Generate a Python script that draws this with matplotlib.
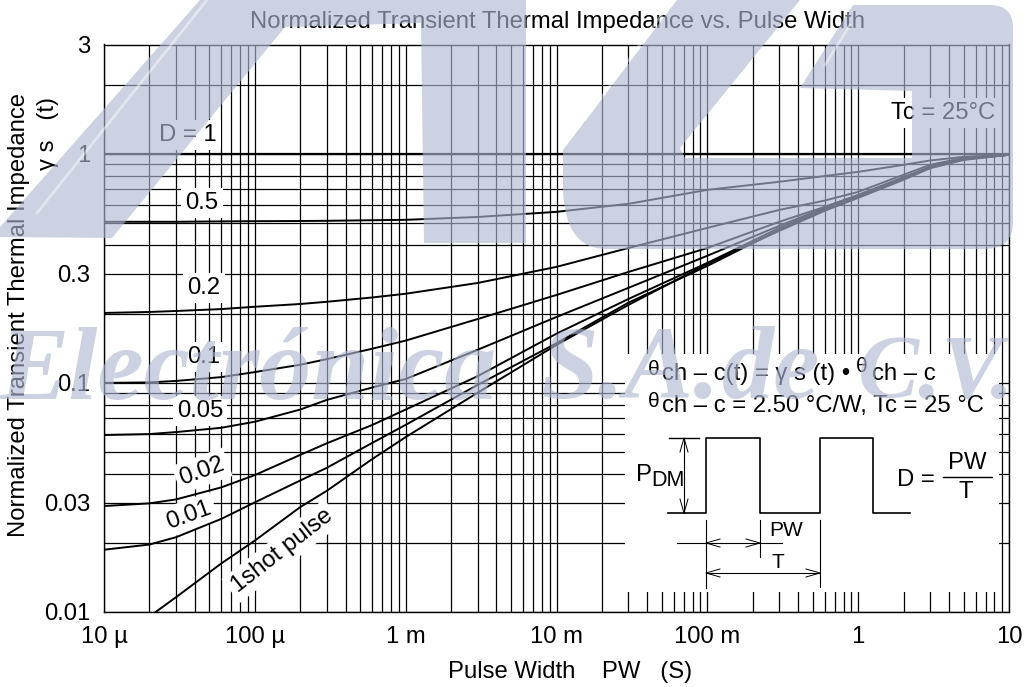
import matplotlib
matplotlib.use('Agg')
from matplotlib import pyplot as plt
from matplotlib.path import Path
from matplotlib.patches import PathPatch, Rectangle, Polygon
from matplotlib.transforms import Affine2D

W, H = 1028, 687

pulse_width = [1e-5, 2e-5, 3e-5, 6e-5, 1e-4, 2e-4, 3e-4, 6e-4, 1e-3, 3e-3, 1e-2, 3e-2, 0.1, 0.3, 0.6, 1, 2, 3, 5, 10]
curve_d1 = [1] * 20
curve_05 = [0.505, 0.505, 0.505, 0.507, 0.508, 0.509, 0.51, 0.513, 0.515, 0.53, 0.558, 0.605, 0.696, 0.755, 0.8, 0.834, 0.895, 0.935, 0.97, 0.99]
curve_02 = [0.202, 0.204, 0.206, 0.21, 0.215, 0.221, 0.226, 0.236, 0.245, 0.273, 0.321, 0.388, 0.475, 0.569, 0.625, 0.682, 0.81, 0.895, 0.96, 0.99]
curve_01 = [0.1, 0.1005, 0.102, 0.106, 0.1115, 0.12, 0.127, 0.141, 0.153, 0.19, 0.242, 0.305, 0.388, 0.505, 0.587, 0.662, 0.79, 0.875, 0.95, 0.99]
curve_005 = [0.0592, 0.0598, 0.061, 0.0637, 0.0677, 0.0765, 0.0843, 0.0955, 0.104, 0.1395, 0.194, 0.26, 0.359, 0.485, 0.581, 0.656, 0.79, 0.875, 0.95, 0.99]
curve_002 = [0.029, 0.0298, 0.031, 0.035, 0.0396, 0.0485, 0.0545, 0.0655, 0.0765, 0.107, 0.164, 0.2325, 0.334, 0.475, 0.575, 0.656, 0.785, 0.875, 0.95, 0.99]
curve_001 = [0.0187, 0.0197, 0.0212, 0.0255, 0.0301, 0.0375, 0.0426, 0.0547, 0.0656, 0.098, 0.149, 0.224, 0.324, 0.466, 0.569, 0.649, 0.78, 0.87, 0.945, 0.99]
shot_width = [2.2e-5, 3e-5, 6e-5, 1e-4, 2e-4, 3e-4, 6e-4, 1e-3, 3e-3, 1e-2, 3e-2, 0.1, 0.3, 0.6, 1, 2, 3, 5, 10]
curve_shot = [0.01, 0.0116, 0.0163, 0.0205, 0.0287, 0.0338, 0.0465, 0.058, 0.0906, 0.1465, 0.219, 0.331, 0.461, 0.564, 0.642, 0.77, 0.865, 0.94, 0.99]

x_ticks = [1e-5, 1e-4, 1e-3, 1e-2, 0.1, 1, 10]
x_labels = ['10 µ', '100 µ', '1 m', '10 m', '100 m', '1', '10']
y_ticks = [0.01, 0.03, 0.1, 0.3, 1, 3]
y_labels = ['0.01', '0.03', '0.1', '0.3', '1', '3']
x_minor = [m * d for d in x_ticks[:-1] for m in range(2, 10)]
y_minor = [m * d for d in [0.01, 0.1, 1] for m in range(2, 10) if m * d < 3 and m * d not in y_ticks]

plt.rcParams['font.family'] = ['Liberation Sans', 'DejaVu Sans']
FS = 17.2

fig = plt.figure(figsize=(W / 100, H / 100), dpi=100)
ax = fig.add_axes([104 / W, 1 - 612 / H, 905 / W, 567.5 / H])
ax.set_xscale('log')
ax.set_yscale('log')
ax.set_xlim(1e-5, 10)
ax.set_ylim(0.01, 3)

# picture pixels, y going down
px = Affine2D().scale(1, -1).translate(0, H)

ax.set_xticks(x_ticks, x_labels, fontsize=FS)
ax.set_yticks(y_ticks, y_labels, fontsize=FS)
ax.set_xticks(x_minor, minor=True)
ax.set_yticks(y_minor, minor=True)
ax.set_xticklabels([], minor=True)
ax.set_yticklabels([], minor=True)
ax.tick_params(which='both', length=0)
ax.tick_params(axis='x', pad=10)
ax.tick_params(axis='y', pad=10)
ax.grid(which='both', color='black', lw=0.9, zorder=1)
ax.set_axisbelow(True)
for s in ax.spines.values():
    s.set_linewidth(1.0)

ax.set_title('Normalized Transient Thermal Impedance vs. Pulse Width', fontsize=FS, x=0.5012, y=1.0, pad=12)
ax.set_xlabel('Pulse Width    PW   (S)', fontsize=FS, va='center')
ax.xaxis.set_label_coords(570, 672, transform=px)
ax.set_ylabel('Normalized Transient Thermal Impedance', fontsize=FS, va='center')
ax.yaxis.set_label_coords(19, 315, transform=px)
ax.text(48, 133, 'γ s   (t)', transform=px, fontsize=FS, rotation=90, ha='center', va='center')

ax.plot(pulse_width, curve_d1, 'k-', lw=1.6, zorder=3)
for c in [curve_05, curve_02, curve_01, curve_005, curve_002, curve_001]:
    ax.plot(pulse_width, c, 'k-', lw=1.4, zorder=3)
ax.plot(shot_width, curve_shot, 'k-', lw=1.4, zorder=3)

# curve labels with white gaps in the grid
white = dict(facecolor='white', edgecolor='none', pad=3)
labels = [('D = 1', 188, 135, 0), ('0.5', 202, 203, 0), ('0.2', 204, 288, 0), ('0.1', 204, 357, 0),
          ('0.05', 200, 411, 0), ('0.02', 202, 471, 20), ('0.01', 189, 515, 20),
          ('1shot pulse', 282, 551, 38), ('Tc = 25°C', 943, 113, 0)]
for txt, lx, ly, rot in labels:
    ax.text(lx, ly, txt, transform=px, fontsize=FS, rotation=rot, rotation_mode='anchor',
            ha='center', va='center', bbox=white, zorder=2.5, clip_on=False)

# formula and pulse diagram box
ax.add_patch(Rectangle((625, 354), 374, 238, transform=px, fc='white', ec='none', zorder=2))


def pline(xs, ys, lw=1.0):
    ax.plot(xs, ys, color='black', lw=lw, transform=px, zorder=3, clip_on=False)


def ptext(x, y, s, ha='left', va='baseline', fs=FS):
    ax.text(x, y, s, transform=px, fontsize=fs, ha=ha, va=va, zorder=3.5)


def arrow_head(x, y, dx, dy):
    # open V, tip at x, y
    if dx:
        pline([x + dx, x, x + dx], [y - 4, y, y + 4], lw=0.7)
    else:
        pline([x - 4, x, x + 4], [y + dy, y, y + dy], lw=0.7)


ptext(648, 375, 'θ', fs=15)
ptext(662, 380, 'ch – c(t) = γ s (t) •')
ptext(856, 372, 'θ', fs=15)
ptext(872, 380, 'ch – c')
ptext(648, 407, 'θ', fs=15)
ptext(662, 412, 'ch – c = 2.50 °C/W, Tc = 25 °C')

pulse_x = [668, 706, 706, 760, 760, 820, 820, 873, 873, 910]
pulse_y = [513, 513, 438, 438, 513, 513, 438, 438, 513, 513]
pline(pulse_x, pulse_y, lw=1.2)
pline([669, 699], [438, 438])
pline([684, 684], [438, 513], lw=0.8)
arrow_head(684, 438, 0, 14)
arrow_head(684, 513, 0, -14)
ptext(636, 481, 'P')
ptext(651, 486, 'DM', fs=15.5)

pline([706, 706], [520, 588], lw=0.8)
pline([760, 760], [520, 557], lw=0.8)
pline([820, 820], [520, 587], lw=0.8)
pline([677, 782], [543, 543], lw=0.8)
arrow_head(706, 543, 14, 0)
arrow_head(760, 543, -14, 0)
pline([706, 820], [573, 573], lw=0.8)
arrow_head(706, 573, 14, 0)
arrow_head(820, 573, -14, 0)
ptext(786, 531, 'PW', ha='center', va='center', fs=15)
ptext(778, 563, 'T', ha='center', va='center', fs=15)

ptext(897, 486, 'D =')
pline([943, 992], [477, 477])
ptext(967, 463, 'PW', ha='center', va='center')
ptext(966, 492, 'T', ha='center', va='center')

# watermark on top of everything
wm = (0.69, 0.72, 0.83, 0.63)
left_shape = [(0, 227), (200, 0), (526, 0), (526, 243), (424, 243), (421, 23), (285, 27), (112, 238), (0, 237)]
fig.add_artist(Polygon(left_shape, closed=True, transform=px, fc=wm, ec='none', zorder=10))

M, L, C = Path.MOVETO, Path.LINETO, Path.CURVE3
c_verts = [(677, 0), (563, 150), (563, 190), (565, 248), (605, 249), (985, 249), (1013, 249), (1013, 222), (1013, 28),
           (1013, 5), (990, 5), (853, 5), (800, 88), (912, 91), (912, 158), (685, 158), (680, 148), (800, 0), (677, 0)]
c_codes = [M, L, L, C, C, L, C, C, L, C, C, L, L, L, L, L, L, L, L]
fig.add_artist(PathPatch(Path(c_verts, c_codes), transform=px, fc=wm, ec='none', zorder=10))

for sx, sy in [([207, 37], [0, 213]), ([665, 585], [10, 120]), ([850, 825], [25, 65])]:
    fig.add_artist(plt.Line2D(sx, sy, transform=px, color='white', alpha=0.45, lw=2, zorder=11))

for word, wx, wsize in [('Electrónica', 0, 75), ('S.A.', 540, 75), ('de', 722, 75), ('C.V.', 858, 66)]:
    fig.text(wx / W, 1 - 398 / H, word, family='Liberation Serif', style='italic', weight='bold',
             fontsize=wsize, color=wm, ha='left', va='baseline', zorder=10)

fig.savefig('out.png', dpi=100)
